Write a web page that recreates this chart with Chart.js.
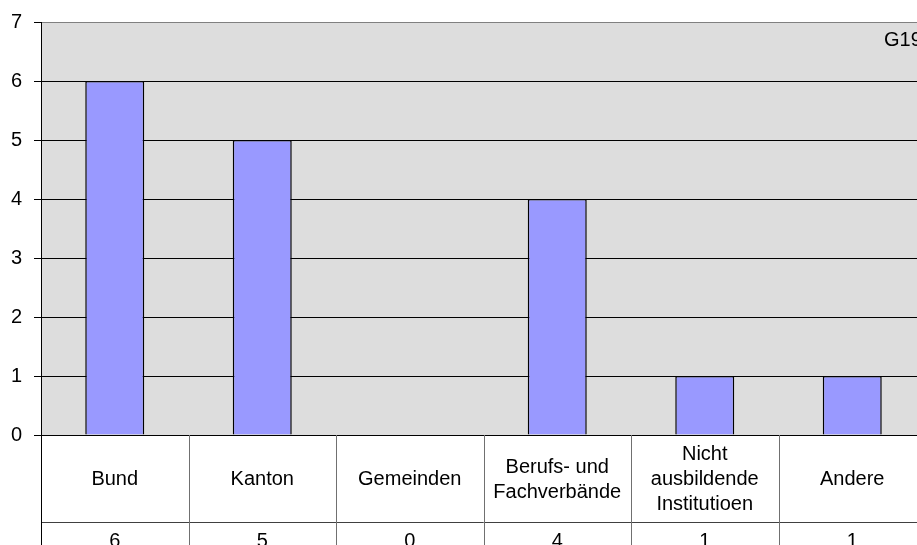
<!DOCTYPE html>
<html>
<head>
<meta charset="utf-8">
<script src="https://cdn.jsdelivr.net/npm/chart.js@4/dist/chart.umd.min.js"></script>
<style>
html,body{margin:0;padding:0;overflow:hidden;background:#fff;width:917px;height:545px;}
#wrap{position:absolute;left:0;top:0;width:935px;height:580px;}
</style>
</head>
<body>
<div id="wrap"><canvas id="c" width="935" height="580"></canvas></div>
<script>
const categories = ['Bund', 'Kanton', 'Gemeinden', ['Berufs- und', 'Fachverbände'], ['Nicht', 'ausbildende', 'Institutioen'], 'Andere'];
const values = [6, 5, 0, 4, 1, 1];
const yMin = 0;
const yMax = 7;
const yStep = 1;
const cornerLabel = 'G19';

const FONT = "'Liberation Sans', Arial, sans-serif";

const bgPlugin = {
  id: 'bg',
  beforeDraw(chart) {
    const a = chart.chartArea, ctx = chart.ctx;
    ctx.save();
    ctx.fillStyle = '#dddddd';
    ctx.fillRect(a.left, a.top, a.right - a.left, a.bottom - a.top);
    ctx.restore();
  }
};

const tablePlugin = {
  id: 'table',
  afterDraw(chart) {
    const ctx = chart.ctx, a = chart.chartArea, x = chart.scales.x;
    const half = (x.getPixelForValue(1) - x.getPixelForValue(0)) / 2;
    const top = a.bottom;
    const rowSplit = top + 87;
    const H = chart.height;
    ctx.save();
    ctx.strokeStyle = '#404040';
    ctx.lineWidth = 1;
    ctx.beginPath();
    ctx.moveTo(a.left, Math.round(rowSplit) + 0.5);
    ctx.lineTo(a.right, Math.round(rowSplit) + 0.5);
    ctx.stroke();
    ctx.strokeStyle = '#707070';
    for (let i = 0; i <= categories.length; i++) {
      const px = Math.round(x.getPixelForValue(i) - half) + 0.5;
      ctx.beginPath();
      ctx.moveTo(px, top);
      ctx.lineTo(px, H);
      ctx.stroke();
    }
    ctx.strokeStyle = '#000';
    ctx.beginPath();
    ctx.moveTo(Math.round(a.left) + 0.5, top);
    ctx.lineTo(Math.round(a.left) + 0.5, H);
    ctx.stroke();
    ctx.fillStyle = '#000';
    ctx.font = '20px ' + FONT;
    ctx.textAlign = 'center';
    ctx.textBaseline = 'middle';
    const lh = 25;
    const midY = (top + rowSplit) / 2 + 1;
    categories.forEach((c, i) => {
      const lines = Array.isArray(c) ? c : [c];
      const cx = x.getPixelForValue(i);
      const y0 = midY - (lines.length - 1) * lh / 2;
      lines.forEach((l, j) => ctx.fillText(l, cx, y0 + j * lh));
      ctx.fillText(String(values[i]), cx, rowSplit + 19);
    });
    ctx.textAlign = 'left';
    ctx.textBaseline = 'alphabetic';
    ctx.fillText(cornerLabel, 884, 46);
    ctx.restore();
  }
};

new Chart(document.getElementById('c'), {
  type: 'bar',
  data: {
    labels: categories,
    datasets: [{
      data: values,
      backgroundColor: '#9999ff',
      borderColor: '#000000',
      borderWidth: 1.5,
      barPercentage: 0.4,
      categoryPercentage: 1.0
    }]
  },
  options: {
    responsive: false,
    devicePixelRatio: 1,
    animation: false,
    layout: { padding: { top: 22, right: 9, bottom: 145, left: 0 } },
    plugins: { legend: { display: false }, tooltip: { enabled: false } },
    scales: {
      x: { display: false, offset: true },
      y: {
        min: yMin,
        max: yMax,
        afterFit(s) { s.width = 41; s.paddingTop = 0; s.paddingBottom = 0; },
        ticks: {
          stepSize: yStep,
          color: '#000',
          padding: 12,
          font: { family: FONT, size: 20 }
        },
        grid: {
          color: (ctx) => (ctx.tick && ctx.tick.value === yMax) ? '#808080' : '#000000',
          tickColor: '#000000',
          tickLength: 7,
          lineWidth: 1
        },
        border: { display: true, color: '#000000', width: 1 }
      }
    }
  },
  plugins: [bgPlugin, tablePlugin]
});
</script>
</body>
</html>
